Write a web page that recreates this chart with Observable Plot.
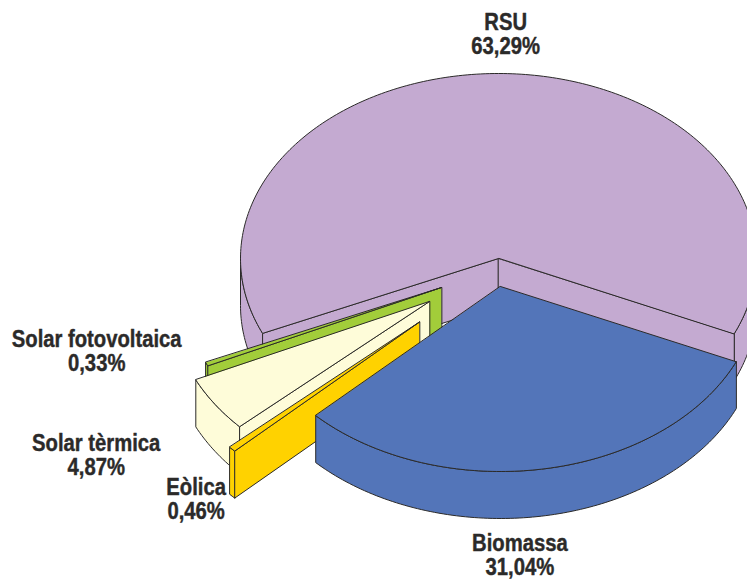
<!DOCTYPE html>
<html>
<head>
<meta charset="utf-8">
<style>
html,body{margin:0;padding:0;background:#fff;overflow:hidden}
svg{display:block}
</style>
<script src="https://cdn.jsdelivr.net/npm/d3@7"></script>
<script src="https://cdn.jsdelivr.net/npm/@observablehq/plot@0.6"></script>
</head>
<body>
<div id="chart"></div>
<script>
// Data, clockwise from Biomassa
const names  = ["Biomassa", "Eòlica", "Solar tèrmica", "Solar fotovoltaica", "RSU"];
const shares = [31.04, 0.46, 4.87, 0.33, 63.29];

// Styling
const colors = ["#5375b9", "#ffd200", "#fefcd9", "#a2cd3a", "#c4aad1"];
const ink = "#2b2a29";

// Pie layout
const layout = {
  rx: 258, ry: 185, depth: 47, start: 24,
  centers: [[500, 286], [419, 321.5], [429, 301], [441, 287], [498, 258]],
  labelShift: [[-26, 86.5], [-36, 50], [-119, 51], [-110, -13], [7, -39]]
};
const textSqueeze = 0.88;

// Derived wedge angles
let acc = layout.start;
const wedges = names.map((name, i) => {
  const sweep = shares[i] / 100 * 360;
  const w = {name, i, share: shares[i], a0: acc, a1: acc + sweep, center: layout.centers[i], color: colors[i]};
  acc += sweep;
  return w;
});

const rad = deg => deg * Math.PI / 180;
const rim = (w, a, drop = 0) => ({
  x: w.center[0] + layout.rx * Math.cos(rad(a)),
  y: w.center[1] + layout.ry * Math.sin(rad(a)) + drop
});
const hub = (w, drop = 0) => ({x: w.center[0], y: w.center[1] + drop});
const sweepAngles = (a0, a1) => {
  const n = Math.max(2, Math.ceil(Math.abs(a1 - a0)));
  return d3.range(n + 1).map(k => a0 + (a1 - a0) * k / n);
};
const depth = layout.depth;

const poly = (pts, fill) => Plot.line(pts, {
  x: "x", y: "y", fill, stroke: ink, strokeWidth: 1,
  curve: "linear-closed", strokeLinejoin: "round"
});

// Outer band of a wedge between two angles
const band = (w, a0, a1) => {
  const arc = sweepAngles(a0, a1);
  return poly([...arc.map(a => rim(w, a)), ...arc.slice().reverse().map(a => rim(w, a, depth))], w.color);
};
// Flat cut face of a wedge at one angle
const face = (w, a) => poly([hub(w), rim(w, a), rim(w, a, depth), hub(w, depth)], w.color);
// Top surface
const lid = w => poly([hub(w), ...sweepAngles(w.a0, w.a1).map(a => rim(w, a))], w.color);

const [bio, eol, ter, fot, rsu] = wedges;
const marks = [
  // RSU, furthest back
  band(rsu, rsu.a0, 180),
  band(rsu, 360, rsu.a1),
  face(rsu, rsu.a0),
  face(rsu, rsu.a1),
  lid(rsu),
  // Small exploded wedges, back to front
  band(fot, fot.a0, fot.a1), face(fot, fot.a0), lid(fot),
  band(ter, ter.a0, ter.a1), face(ter, ter.a0), lid(ter),
  band(eol, eol.a0, eol.a1), face(eol, eol.a0), lid(eol),
  // Biomassa, nearest
  band(bio, bio.a0, bio.a1), lid(bio),
  // Labels
  Plot.text(wedges, {
    x: w => rim(w, (w.a0 + w.a1) / 2).x + layout.labelShift[w.i][0],
    y: w => rim(w, (w.a0 + w.a1) / 2).y + layout.labelShift[w.i][1],
    text: w => `${w.name}\n${w.share.toFixed(2).replace(".", ",")}%`,
    fontFamily: "'Liberation Sans', Arial, sans-serif",
    fontWeight: "bold",
    fontSize: 23,
    lineHeight: 1.04,
    fill: ink,
    stroke: ink,
    strokeWidth: 0.4,
    textAnchor: "middle"
  })
];

const chart = Plot.plot({
  width: 747, height: 579,
  margin: 0,
  x: {domain: [0, 747], range: [0, 747], axis: null},
  y: {domain: [0, 579], range: [0, 579], axis: null},
  style: {background: "#fff"},
  marks
});
document.getElementById("chart").append(chart);

// Condense the bold labels: no condensed face is installed
chart.querySelectorAll("text tspan").forEach(t => {
  const len = t.getComputedTextLength();
  t.setAttribute("textLength", (len * textSqueeze).toFixed(1));
  t.setAttribute("lengthAdjust", "spacingAndGlyphs");
});
</script>
</body>
</html>
